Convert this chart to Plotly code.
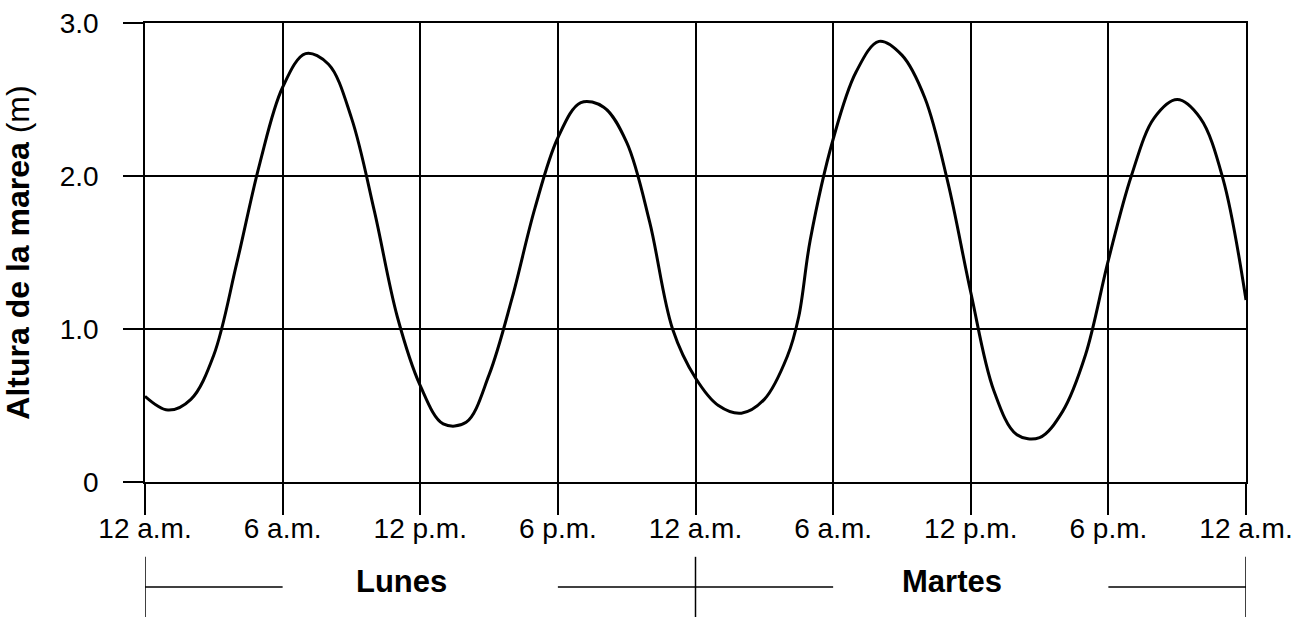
import plotly.graph_objects as go

# Data (hours since Monday 12 a.m., tide height in m)
hours = [0, 1, 2, 3, 4, 5, 6, 7, 8, 9, 10, 11, 12,
         13, 14, 15, 16, 17, 18, 19, 20, 21, 22, 23, 24,
         25, 26, 27, 28, 28.5, 29, 30, 31, 32, 33, 34, 35, 36,
         37, 38, 39, 40, 41, 42, 43, 44, 45, 46, 47, 48]
heights = [0.56, 0.47, 0.54, 0.83, 1.43, 2.08, 2.58, 2.80, 2.73, 2.38, 1.77, 1.08, 0.63,
           0.38, 0.39, 0.70, 1.20, 1.79, 2.25, 2.48, 2.45, 2.22, 1.70, 1.00, 0.68,
           0.50, 0.45, 0.54, 0.82, 1.08, 1.58, 2.24, 2.68, 2.88, 2.79, 2.51, 1.96, 1.24,
           0.60, 0.31, 0.29, 0.46, 0.83, 1.45, 2.00, 2.38, 2.50, 2.38, 1.98, 1.19]

x_tick_vals = [0, 6, 12, 18, 24, 30, 36, 42, 48]
x_tick_text = ["12 a.m.", "6 a.m.", "12 p.m.", "6 p.m.", "12 a.m.", "6 a.m.", "12 p.m.", "6 p.m.", "12 a.m."]
y_tick_vals = [0, 1, 2, 3]
y_tick_text = ["0", "1.0", "2.0", "3.0"]
day_labels = ["Lunes", "Martes"]
day_label_x = [11.2, 35.2]

FONT = "Liberation Sans, Arial, Helvetica, sans-serif"

fig = go.Figure()
fig.add_trace(go.Scatter(x=hours, y=heights, mode="lines",
                         line=dict(color="black", width=3, shape="spline", smoothing=1.0),
                         hoverinfo="skip", showlegend=False, cliponaxis=False))

fig.update_layout(
    width=1308, height=617,
    margin=dict(l=145, r=62, t=23, b=135, autoexpand=False),
    paper_bgcolor="white", plot_bgcolor="white",
    font=dict(family=FONT, size=28, color="black"),
    xaxis=dict(range=[0, 48], tickvals=x_tick_vals, ticktext=x_tick_text,
               showgrid=True, gridcolor="black", gridwidth=1.5,
               ticks="outside", ticklen=31, tickwidth=1.5, tickcolor="black",
               showline=True, linecolor="black", linewidth=1.5, mirror=True,
               zeroline=False, ticklabelstandoff=-10, automargin=False,
               tickfont=dict(family=FONT, size=28, color="black")),
    yaxis=dict(range=[0, 3], tickvals=y_tick_vals, ticktext=y_tick_text,
               showgrid=True, gridcolor="black", gridwidth=1.5,
               ticks="outside", ticklen=20, tickwidth=1.5, tickcolor="black",
               showline=True, linecolor="black", linewidth=1.5, mirror=True,
               zeroline=False, ticklabelstandoff=19, automargin=False,
               tickfont=dict(family=FONT, size=28, color="black")),
)
fig.update_yaxes(title=dict(text="<b>Altura de la marea</b> (m)", standoff=27,
                            font=dict(family=FONT, size=32, color="black")))

# Day bracket under the axis
lw = 1.5
y_top, y_mid, y_bot = -0.163, -0.229, -0.30
for xv in [0, 24, 48]:
    fig.add_shape(type="line", xref="x", yref="paper", x0=xv, x1=xv, y0=y_top, y1=y_bot,
                  line=dict(color="black", width=lw))
for x0, x1 in [(0, 6), (18, 30), (42, 48)]:
    fig.add_shape(type="line", xref="x", yref="paper", x0=x0, x1=x1, y0=y_mid, y1=y_mid,
                  line=dict(color="black", width=lw))
for lab, xv in zip(day_labels, day_label_x):
    fig.add_annotation(x=xv, xref="x", y=-0.216, yref="paper", text=f"<b>{lab}</b>",
                       showarrow=False, font=dict(family=FONT, size=31, color="black"),
                       xanchor="center", yanchor="middle")

fig.write_html("out.html", config={"displayModeBar": False},
               post_script="document.body.style.margin='0';")
